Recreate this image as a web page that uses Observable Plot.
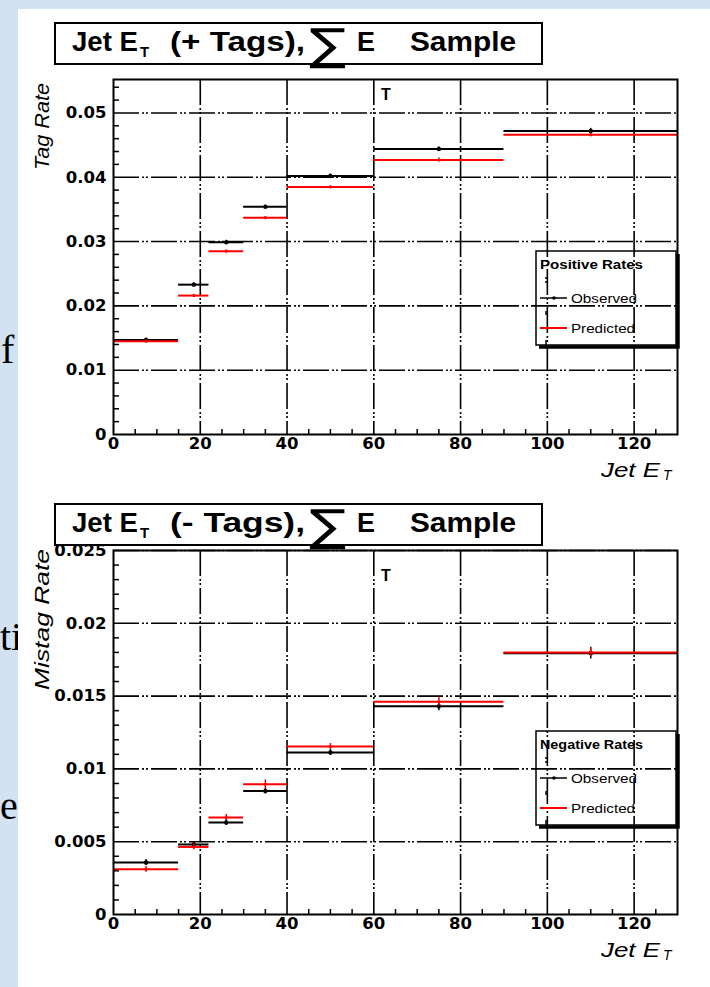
<!DOCTYPE html>
<html><head><meta charset="utf-8">
<script src="https://cdn.jsdelivr.net/npm/d3@7"></script>
<script src="https://cdn.jsdelivr.net/npm/@observablehq/plot@0.6"></script>
<style>
html,body{margin:0;padding:0}
body{background:#d2e2f3;width:710px;height:987px;overflow:hidden;position:relative}
#paper{position:absolute;left:18px;top:9px;width:692px;height:978px;background:#fff}
.side{position:absolute;font-family:"Liberation Serif",serif;font-size:40px;color:#000;line-height:1}
.panel{position:absolute;left:0}
#overlay{position:absolute;left:0;top:0}
</style></head>
<body>
<div class="side" style="left:1px;top:330px">f</div>
<div class="side" style="left:0px;top:617px">ti</div>
<div class="side" style="left:0px;top:786px">e</div>
<div id="paper"></div>
<div id="p1" class="panel" style="top:0"></div>
<div id="p2" class="panel" style="top:490px"></div>
<svg id="overlay" width="710" height="987"></svg>
<script>
// ---- data ----
const binLow = [0, 15, 22, 30, 40, 60, 90];
const binHigh = [15, 22, 30, 40, 60, 90, 130];
const binCenter = [7.5, 18.5, 26, 35, 50, 75, 110];

const tagObserved  = [0.0147, 0.0233, 0.0299, 0.0354, 0.0402, 0.0444, 0.0472];
const tagObsErr    = [0.0003, 0.0003, 0.0003, 0.0003, 0.0003, 0.0003, 0.0004];
const tagPredicted = [0.0145, 0.0216, 0.0285, 0.0337, 0.0385, 0.0427, 0.0466];
const tagPredErr   = [0.0002, 0.0002, 0.0002, 0.0002, 0.0002, 0.0003, 0.0003];

const mistagObserved  = [0.00357, 0.00481, 0.00632, 0.00848, 0.01113, 0.0143, 0.01795];
const mistagObsErr    = [0.0002, 0.0002, 0.0002, 0.0002, 0.0002, 0.0003, 0.0004];
const mistagPredicted = [0.0031, 0.00464, 0.00667, 0.00894, 0.01154, 0.01462, 0.0180];
const mistagPredErr   = [0.0002, 0.0002, 0.0002, 0.0003, 0.0002, 0.0003, 0.0003];

const xTicks = [0, 20, 40, 60, 80, 100, 120];
const tagTicks = [0, 0.01, 0.02, 0.03, 0.04, 0.05];
const mistagTicks = [0, 0.005, 0.01, 0.015, 0.02, 0.025];

const titles = [
  {sign: "+", yLabel: "Tag Rate", legend: "Positive Rates"},
  {sign: "-", yLabel: "Mistag Rate", legend: "Negative Rates"}
];

// ---- drawing ----
const DASH = "26,3,2,2,2,3";
function panel({obs, obsErr, pred, predErr, yMax, yTicks, yMinorStep, height, marginTop, marginBottom}) {
  const rows = binCenter.map((c, i) => ({lo: binLow[i], hi: binHigh[i], c,
    obs: obs[i], oe: obsErr[i], pred: pred[i], pe: predErr[i]}));
  const innerW = 710 - 113 - 33;
  const innerH = height - marginTop - marginBottom;
  const xMinor = d3.range(5, 130, 5).filter(v => v % 20 !== 0);
  const yMinor = d3.range(1, Math.round(yMax / yMinorStep) + 1).map(k => +(k * yMinorStep).toFixed(5))
    .filter(v => !yTicks.some(t => Math.abs(t - v) < 1e-9) && v <= yMax);
  const fmt = d => String(+(+d).toFixed(4));
  return Plot.plot({
    width: 710, height, marginLeft: 113, marginRight: 33, marginTop, marginBottom,
    x: {domain: [0, 130]},
    y: {domain: [0, yMax]},
    style: {background: "transparent", fontFamily: "DejaVu Sans", fontWeight: "bold", fontSize: "16.5px", color: "#000"},
    marks: [
      Plot.gridX(xTicks.filter(v => v > 0), {stroke: "#000", strokeOpacity: 1, strokeWidth: 1.6, strokeDasharray: DASH}),
      Plot.gridY(yTicks.filter(v => v > 0), {stroke: "#000", strokeOpacity: 1, strokeWidth: 1.6, strokeDasharray: DASH}),
      Plot.tickX(xMinor, {x: d => d, stroke: "#000", strokeWidth: 1.5, insetTop: innerH - 5}),
      Plot.tickY(yMinor, {y: d => d, stroke: "#000", strokeWidth: 1.5, insetRight: innerW - 6}),
      Plot.axisX(xTicks, {tickSize: 0, tickPadding: 3, fontSize: 16.5, fontWeight: "bold", label: null}),
      Plot.axisY(yTicks, {tickSize: 0, tickPadding: 7, tickFormat: fmt, fontSize: 16.5, fontWeight: "bold", label: null}),
      Plot.ruleY(rows, {x1: "lo", x2: "hi", y: "obs", stroke: "#000", strokeWidth: 2}),
      Plot.ruleX(rows, {x: "c", y1: d => d.obs - d.oe, y2: d => d.obs + d.oe, stroke: "#000", strokeWidth: 1.5}),
      Plot.dot(rows, {x: "c", y: "obs", r: 2.2, fill: "#000", stroke: "none"}),
      Plot.ruleY(rows, {x1: "lo", x2: "hi", y: "pred", stroke: "#ff0000", strokeWidth: 2}),
      Plot.ruleX(rows, {x: "c", y1: d => d.pred - d.pe, y2: d => d.pred + d.pe, stroke: "#ff0000", strokeWidth: 1.5}),
      Plot.dot(rows, {x: "c", y: "pred", r: 1.5, fill: "#ff0000", stroke: "none"}),
      Plot.frame({stroke: "#000", strokeWidth: 2})
    ]
  });
}

document.getElementById("p1").append(panel({
  obs: tagObserved, obsErr: tagObsErr, pred: tagPredicted, predErr: tagPredErr,
  yMax: 0.0552, yTicks: tagTicks, yMinorStep: 0.002, height: 490, marginTop: 79, marginBottom: 56
}));
document.getElementById("p2").append(panel({
  obs: mistagObserved, obsErr: mistagObsErr, pred: mistagPredicted, predErr: mistagPredErr,
  yMax: 0.025, yTicks: mistagTicks, yMinorStep: 0.001, height: 497, marginTop: 60, marginBottom: 73
}));

// ---- overlay: titles, axis titles, legends ----
const svg = d3.select("#overlay");
const offsets = [0, 481];
const SANS = "Liberation Sans";
function txt(g, x, y, s, size, opts = {}) {
  const t = g.append("text").attr("x", x).attr("y", y).attr("font-family", opts.family || SANS)
    .attr("font-size", size).text(s);
  if (opts.bold) t.attr("font-weight", "bold");
  if (opts.italic) t.attr("font-style", "italic");
  if (opts.len) t.attr("textLength", opts.len).attr("lengthAdjust", "spacingAndGlyphs");
  if (opts.anchor) t.attr("text-anchor", opts.anchor);
  return t;
}
titles.forEach((t, i) => {
  const oy = offsets[i];
  const g = svg.append("g").attr("transform", `translate(0,${oy})`);
  // title box
  g.append("rect").attr("x", 55).attr("y", 23).attr("width", 487).attr("height", 41)
    .attr("fill", "#fff").attr("stroke", "#000").attr("stroke-width", 2);
  txt(g, 72, 51, "Jet E", 28, {bold: true, len: 66});
  txt(g, 140, 57, "T", 15, {bold: true});
  txt(g, 170, 51, `(${t.sign} Tags),`, 28, {bold: true, len: 135});
  txt(g, 309, 60, "\u2211", 44, {family: "DejaVu Sans", len: 37});
  txt(g, 357, 51, "E", 28, {bold: true, len: 18});
  txt(g, 410, 51, "Sample", 28, {bold: true, len: 106});
  txt(g, 386, 100, "T", 16, {bold: true, anchor: "middle"});
  // y-axis title
  const yEnd = i === 0 ? 83 : 549;
  const yLen = i === 0 ? 87 : 141;
  svg.append("text").attr("transform", `translate(49,${yEnd}) rotate(-90)`).attr("text-anchor", "end")
    .attr("font-family", SANS).attr("font-style", "italic").attr("font-size", 20.5)
    .attr("textLength", yLen).attr("lengthAdjust", "spacingAndGlyphs").text(t.yLabel);
  // x-axis title
  const xb = i === 0 ? 477 : 957;
  txt(svg, 601, xb, "Jet E", 21, {italic: true, len: 59});
  txt(svg, 663, xb + 3, "T", 14, {italic: true});
  // legend
  const ly = i === 0 ? 251 : 731;
  const lg = svg.append("g").attr("transform", `translate(536,${ly})`);
  lg.append("path").attr("d", "M142,3 V96 H3").attr("fill", "none").attr("stroke", "#000").attr("stroke-width", 3.5);
  lg.append("rect").attr("width", 140).attr("height", 94).attr("fill", "none").attr("stroke", "#000").attr("stroke-width", 1.5);
  txt(lg, 4, 18, t.legend, 12, {bold: true, len: 103});
  lg.append("line").attr("x1", 4).attr("x2", 31).attr("y1", 47).attr("y2", 47).attr("stroke", "#000").attr("stroke-width", 1.5);
  lg.append("circle").attr("cx", 18).attr("cy", 47).attr("r", 1.8).attr("fill", "#000");
  lg.append("line").attr("x1", 10).attr("x2", 10).attr("y1", 26).attr("y2", 32).attr("stroke", "#000").attr("stroke-width", 1.5).attr("stroke-dasharray", "2,2");
  lg.append("line").attr("x1", 10).attr("x2", 10).attr("y1", 60).attr("y2", 64).attr("stroke", "#000").attr("stroke-width", 1.5);
  lg.append("line").attr("x1", 10).attr("x2", 10).attr("y1", 89).attr("y2", 94).attr("stroke", "#000").attr("stroke-width", 1.5);
  txt(lg, 35, 52, "Observed", 12.5, {len: 66});
  lg.append("line").attr("x1", 4).attr("x2", 31).attr("y1", 77).attr("y2", 77).attr("stroke", "#ff0000").attr("stroke-width", 2);
  txt(lg, 35, 82, "Predicted", 12.5, {len: 64});
});
</script>
</body></html>
